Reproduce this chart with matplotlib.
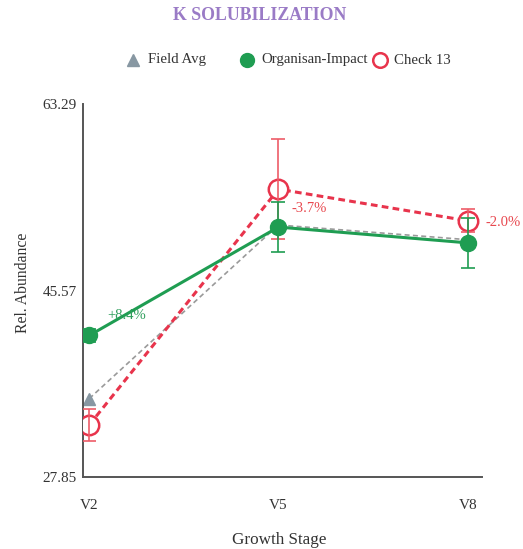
import matplotlib
matplotlib.use("Agg")
import matplotlib.pyplot as plt
from matplotlib.lines import Line2D

plt.rcParams['font.family'] = ['Liberation Serif', 'DejaVu Serif']

# Data
stages = ["V2", "V5", "V8"]
field_avg = [35.3, 51.8, 50.4]
organisan = [41.3, 51.6, 50.1]
organisan_err = [0.6, 2.35, 2.4]
check13 = [32.8, 55.2, 52.2]
check13_err = [1.55, 4.75, 1.1]
y_ticks = [27.85, 45.57, 63.29]
pct_text = ["+8.4%", "-3.7%", "-2.0%"]
pct_series = ["organisan", "check13", "check13"]
pct_stage = [0, 1, 2]

GREEN = "#1f9d52"
RED = "#e8344c"
RED_ERR = "#ee5c68"
GREY_LINE = "#9a9a9a"
GREY_MARK = "#8797a2"
PURPLE = "#9a7bc6"

fig = plt.figure(figsize=(5.23, 5.49), dpi=100)
ax = fig.add_axes([0.1587, 0.1311, 0.763, 0.6794])

x = list(range(len(stages)))

# Field average: thin grey dashed trend
ax.plot(x, field_avg, color=GREY_LINE, lw=1.2, ls=(0, (3, 2)), marker="^",
        ms=9, mfc=GREY_MARK, mec=GREY_MARK, zorder=2)

# Check 13: red dashed with hollow circles
ax.plot(x, check13, color=RED, lw=2.2, ls=(0, (2.2, 1.4)), marker="o",
        ms=14, mfc="white", mec=RED, mew=1.8, zorder=3)
ax.errorbar(x, check13, yerr=check13_err, fmt="none", ecolor=RED_ERR,
            elinewidth=1.2, capsize=5, capthick=1.2, zorder=4)

# Organisan-Impact: solid green with filled circles
ax.plot(x, organisan, color=GREEN, lw=2.2, marker="o", ms=11.5,
        mfc=GREEN, mec=GREEN, zorder=5)
ax.errorbar(x, organisan, yerr=organisan_err, fmt="none", ecolor=GREEN,
            elinewidth=1.2, capsize=5, capthick=1.2, zorder=6)

# Percentage annotations
series_vals = {"organisan": organisan, "check13": check13}
series_col = {"organisan": "#2f9e5c", "check13": "#e8484f"}
offsets = [(13, 14.4), (9.4, -13.7), (12.5, -1.4)]
for txt, s, i, off in zip(pct_text, pct_series, pct_stage, offsets):
    ax.annotate(txt, (x[i], series_vals[s][i]), xytext=off,
                textcoords="offset points", ha="left", va="center",
                fontsize=10.5, color=series_col[s], zorder=7,
                annotation_clip=False)

ax.set_xlim(-0.033, 2.076)
ax.set_ylim(y_ticks[0], y_ticks[-1])
ax.set_xticks(x)
ax.set_xticklabels(stages)
ax.set_yticks(y_ticks)
ax.set_yticklabels([f"{v:.2f}" for v in y_ticks])
ax.tick_params(axis="both", length=0, labelsize=11, colors="#333333")
ax.tick_params(axis="x", pad=15.5)
ax.tick_params(axis="y", pad=4.5)
for side in ["top", "right"]:
    ax.spines[side].set_visible(False)
for side in ["left", "bottom"]:
    ax.spines[side].set_color("#555555")
    ax.spines[side].set_linewidth(1.4)

ax.set_ylabel("Rel. Abundance", fontsize=11.3, color="#333333")
ax.yaxis.set_label_coords(-0.130, 0.52)
ax.set_xlabel("Growth Stage", fontsize=12.3, color="#333333")
ax.xaxis.set_label_coords(0.492, -0.147)

# Title
fig.text(0.497, 1 - 15 / 549, "K SOLUBILIZATION", ha="center", va="center",
         fontsize=12.8, fontweight="bold", color=PURPLE)

# Legend row
ly = 1 - 60 / 549
legend_items = [
    (133, "^", GREY_MARK, GREY_MARK, 8, "Field Avg", 148),
    (246.5, "o", GREEN, GREEN, 10, "Organisan-Impact", 261),
    (380, "o", "white", RED, 10.5, "Check 13", 394),
]
for mx, mk, fc, ec, ms, label, tx in legend_items:
    fig.add_artist(Line2D([mx / 523], [ly], marker=mk, ms=ms, mfc=fc, mec=ec,
                          mew=1.8 if fc == "white" else 1.0, ls="none",
                          transform=fig.transFigure))
    fig.text(tx / 523, ly, label, ha="left", va="center", fontsize=10.7,
             color="#333333")

fig.savefig("out.png", dpi=100, facecolor="white")
